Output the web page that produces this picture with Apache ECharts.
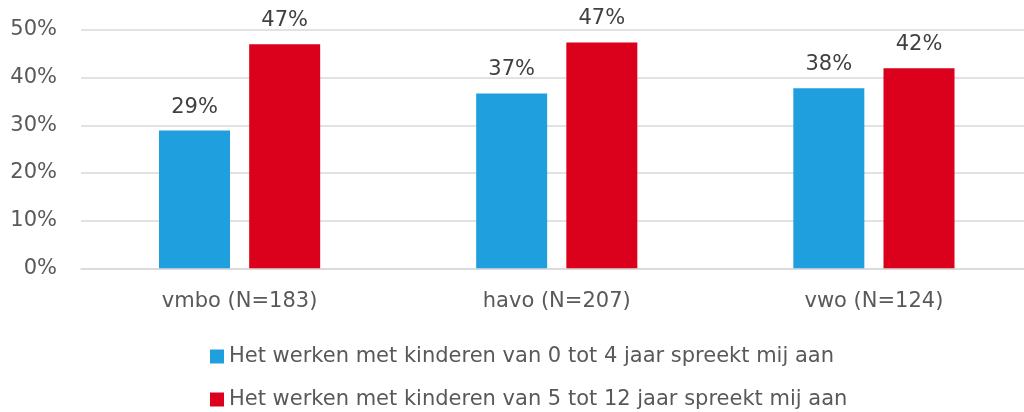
<!DOCTYPE html>
<html>
<head>
<meta charset="utf-8">
<script src="https://cdn.jsdelivr.net/npm/echarts@6/dist/echarts.min.js"></script>
<style>html,body{margin:0;padding:0;background:#fff}#c{width:1024px;height:412px}</style>
</head>
<body>
<div id="c"></div>
<script>
const categories = ['vmbo (N=183)', 'havo (N=207)', 'vwo (N=124)'];
const seriesNames = [
  'Het werken met kinderen van 0 tot 4 jaar spreekt mij aan',
  'Het werken met kinderen van 5 tot 12 jaar spreekt mij aan'
];
const young = [28.9, 36.7, 37.8];
const older = [47.0, 47.4, 42.0];
const yTicks = [0, 10, 20, 30, 40, 50];

const font = 'DejaVu Sans';
const fs = 21;
const chart = echarts.init(document.getElementById('c'));
const lbl = {
  show: true, position: 'top', distance: 13,
  color: '#404040', fontFamily: font, fontSize: fs,
  formatter: p => Math.round(p.value) + '%'
};
const legendBase = {
  orient: 'vertical', left: 205,
  itemWidth: 14, itemHeight: 14, icon: 'rect',
  textStyle: { fontFamily: font, fontSize: fs, color: '#595959' }
};
chart.setOption({
  animation: false,
  grid: { left: 81, width: 951.5, top: 30, bottom: 143.7, containLabel: false, outerBoundsMode: 'none' },
  legend: [
    Object.assign({}, legendBase, { top: 341, data: [seriesNames[0]] }),
    Object.assign({}, legendBase, { top: 384, data: [seriesNames[1]] })
  ],
  xAxis: {
    type: 'category', data: categories,
    axisLine: { lineStyle: { color: '#d9d9d9', width: 1.5 } },
    axisTick: { show: false },
    axisLabel: { color: '#595959', fontFamily: font, fontSize: fs, margin: 23 }
  },
  yAxis: {
    type: 'value', min: yTicks[0], max: yTicks[yTicks.length - 1], interval: 10,
    axisLine: { show: false }, axisTick: { show: false },
    splitLine: { lineStyle: { color: '#d9d9d9', width: 1.5 } },
    axisLabel: { color: '#595959', fontFamily: font, fontSize: fs, margin: 24, formatter: '{value}%' }
  },
  series: [
    { name: seriesNames[0], type: 'bar', data: young, barWidth: 71, barGap: '27%',
      itemStyle: { color: '#209fde' }, label: lbl },
    { name: seriesNames[1], type: 'bar', data: older, barWidth: 71, barGap: '27%',
      itemStyle: { color: '#db001b' }, label: lbl }
  ]
});
</script>
</body>
</html>
